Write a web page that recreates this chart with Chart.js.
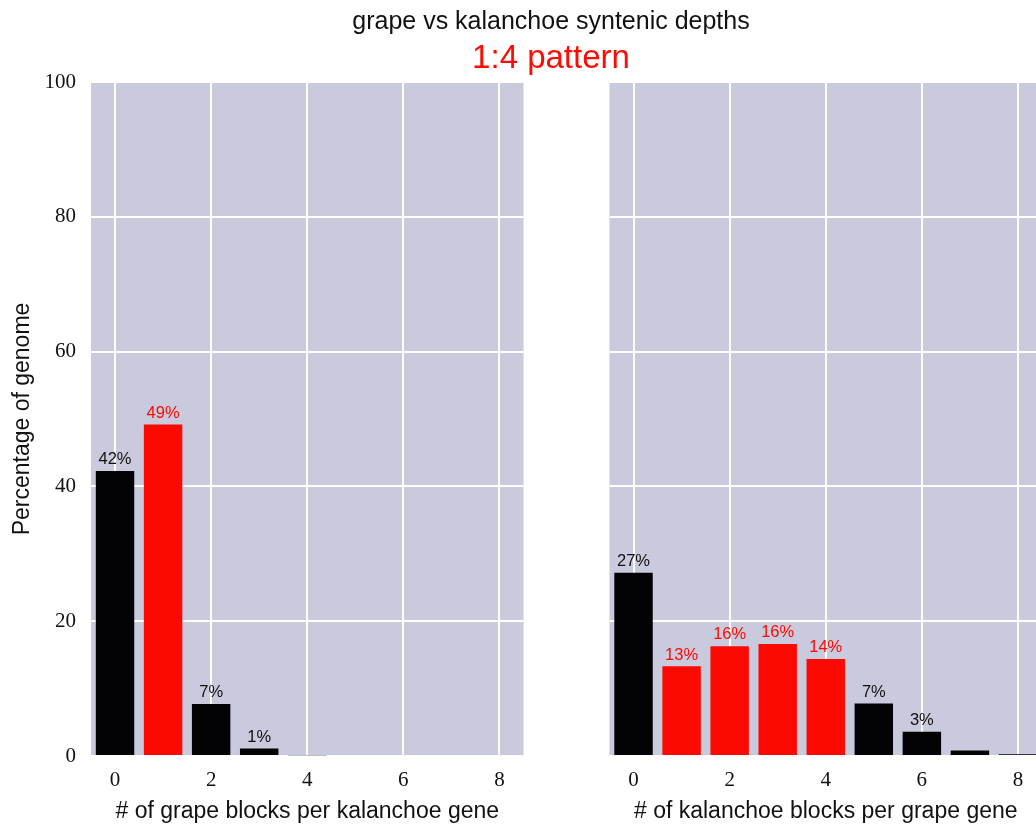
<!DOCTYPE html>
<html>
<head>
<meta charset="utf-8">
<script src="https://cdn.jsdelivr.net/npm/chart.js@4"></script>
<style>
    html, body { margin: 0; padding: 0; background: #fff; overflow: hidden; width: 1036px; height: 828px; }
    #wrap { position: relative; width: 1036px; height: 828px; overflow: hidden; }
    canvas { position: absolute; top: 0; }
    #leftChart { left: 0; }
    #rightChart { left: 560px; }
    .title { position: absolute; left: 0; width: 1102px; text-align: center; font-family: "Liberation Sans", Arial, sans-serif; white-space: nowrap; }
    #title1 { top: 8px; font-size: 25px; line-height: 25px; color: #111; }
    #title2 { top: 40px; font-size: 33px; line-height: 33px; color: #fb0d05; }
</style>
</head>
<body>
<div id="wrap">
    <canvas id="leftChart" width="540" height="828"></canvas>
    <canvas id="rightChart" width="500" height="828"></canvas>
    <div class="title" id="title1">grape vs kalanchoe syntenic depths</div>
    <div class="title" id="title2">1:4 pattern</div>
</div>
<script>
// depth categories (number of blocks)
const categories = ['0', '1', '2', '3', '4', '5', '6', '7', '8'];
// % of genome
const grapeBlocks = [42.3, 49.2, 7.7, 1.1, 0.1, 0, 0, 0, 0];
const kalanchoeBlocks = [27.2, 13.3, 16.3, 16.6, 14.4, 7.8, 3.6, 0.8, 0.25];
// categories that belong to the 1:4 pattern
const grapePattern = [1];
const kalanchoePattern = [1, 2, 3, 4];
const yTicks = [0, 20, 40, 60, 80, 100];

const BG = '#c9cadd';
const RED = '#fb0a02';
const BLACK = '#030306';

const bgPlugin = {
    id: 'plotBg',
    beforeDraw(chart) {
        const a = chart.chartArea;
        const ctx = chart.ctx;
        ctx.save();
        ctx.fillStyle = BG;
        ctx.fillRect(a.left, a.top, a.right - a.left, a.bottom - a.top);
        ctx.restore();
    }
};

const labelPlugin = {
    id: 'barLabels',
    afterDatasetsDraw(chart) {
        const ctx = chart.ctx;
        const ds = chart.data.datasets[0];
        const meta = chart.getDatasetMeta(0);
        ctx.save();
        ctx.font = '16.5px "Liberation Sans", Arial, sans-serif';
        ctx.textAlign = 'center';
        ctx.textBaseline = 'bottom';
        meta.data.forEach((bar, i) => {
            const v = ds.data[i];
            if (v < 1) return;
            ctx.fillStyle = ds.pattern.includes(i) ? RED : '#111';
            ctx.fillText(Math.floor(v) + '%', bar.x, bar.y - 3);
        });
        ctx.restore();
    }
};

function makeChart(id, values, pattern, xTitle, showY, padding) {
    const ctx = document.getElementById(id).getContext('2d');
    return new Chart(ctx, {
        type: 'bar',
        data: {
            labels: categories,
            datasets: [{
                data: values,
                pattern: pattern,
                backgroundColor: values.map((v, i) => pattern.includes(i) ? RED : BLACK),
                borderWidth: 0,
                barPercentage: 0.8,
                categoryPercentage: 1.0
            }]
        },
        options: {
            responsive: false,
            animation: false,
            devicePixelRatio: 1,
            layout: { padding: padding },
            plugins: {
                legend: { display: false },
                tooltip: { enabled: false }
            },
            scales: {
                x: {
                    offset: true,
                    border: { display: false },
                    grid: {
                        offset: false,
                        drawTicks: false,
                        lineWidth: 2,
                        color: c => c.index % 2 === 0 ? '#ffffff' : 'rgba(0,0,0,0)'
                    },
                    ticks: {
                        autoSkip: false,
                        maxRotation: 0,
                        padding: 12,
                        color: '#111',
                        font: { family: '"Liberation Serif", "Times New Roman", serif', size: 21 },
                        callback: function (val, i) { return i % 2 === 0 ? categories[i] : ''; }
                    },
                    title: {
                        display: true,
                        text: xTitle,
                        color: '#111',
                        font: { family: '"Liberation Sans", Arial, sans-serif', size: 23 },
                        padding: { top: 0, bottom: 3 }
                    },
                    afterFit: s => { s.height = 72; }
                },
                y: {
                    min: 0,
                    max: 100,
                    border: { display: false },
                    grid: { drawTicks: false, lineWidth: 2, color: '#ffffff' },
                    afterBuildTicks: s => { s.ticks = yTicks.map(v => ({ value: v })); },
                    ticks: {
                        display: showY,
                        padding: 15,
                        color: '#111',
                        font: { family: '"Liberation Serif", "Times New Roman", serif', size: 21 }
                    },
                    title: {
                        display: showY,
                        text: 'Percentage of genome',
                        color: '#111',
                        font: { family: '"Liberation Sans", Arial, sans-serif', size: 23 },
                        padding: { top: 9, bottom: 0 }
                    },
                    afterFit: s => { s.width = showY ? 91 : 0; }
                }
            }
        },
        plugins: [bgPlugin, labelPlugin]
    });
}

makeChart('leftChart', grapeBlocks, grapePattern, '# of grape blocks per kalanchoe gene', true,
    { left: 0, top: 82, right: 16.5, bottom: 0 });
makeChart('rightChart', kalanchoeBlocks, kalanchoePattern, '# of kalanchoe blocks per grape gene', false,
    { left: 49.5, top: 82, right: 18, bottom: 0 });
</script>
</body>
</html>
